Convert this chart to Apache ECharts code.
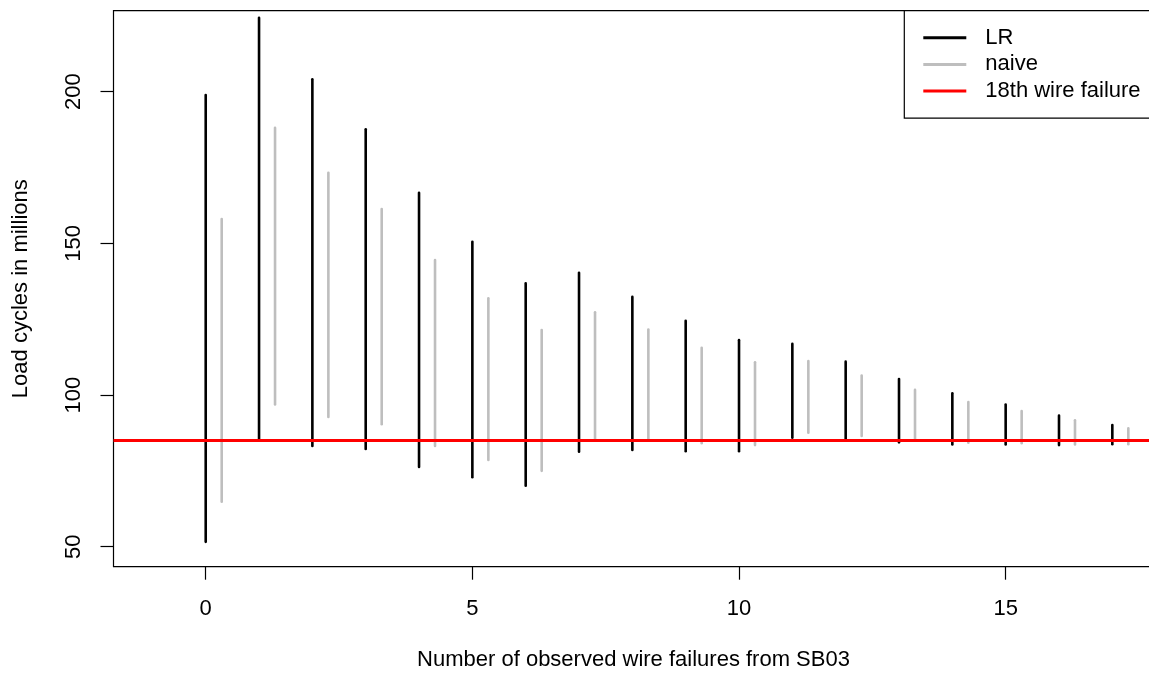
<!DOCTYPE html>
<html>
<head>
<meta charset="utf-8">
<script src="https://cdn.jsdelivr.net/npm/echarts@6/dist/echarts.min.js"></script>
<style>
html,body{margin:0;padding:0;background:#fff;}
#chart{width:1149px;height:675px;}
</style>
</head>
<body>
<div id="chart"></div>
<script>
// Number of observed wire failures
var failures = [0,1,2,3,4,5,6,7,8,9,10,11,12,13,14,15,16,17];
// LR intervals (load cycles in millions)
var lrUpper = [198.9,224.4,204.1,187.6,166.7,150.5,136.8,140.3,132.4,124.5,118.1,116.9,111.0,105.3,100.6,96.9,93.2,90.1];
var lrLower = [51.6,85.4,83.2,82.2,76.3,72.9,70.1,81.3,81.9,81.5,81.5,85.9,85.2,84.4,83.7,83.7,83.5,83.8];
// naive intervals
var naiveUpper = [158.0,188.1,173.3,161.3,144.5,131.9,121.4,127.3,121.6,115.6,110.8,111.2,106.4,101.7,97.7,94.7,91.7,89.0];
var naiveLower = [64.8,96.9,92.8,90.4,83.2,78.6,75.0,85.2,85.0,84.1,83.5,87.6,86.5,85.2,84.3,84.1,83.7,83.8];
// 18th wire failure
var failure18 = 85.2;
var xTicks = [0,5,10,15];
var yTicks = [50,100,150,200];

var FONT = 'Liberation Sans, Arial, sans-serif';
var FS = 22;
var naiveOffset = 0.3;

function segData(xs, lo, hi, off) {
  return xs.map(function (x, i) { return [x + off, lo[i], hi[i]]; });
}
function makeRender(color) {
  return function (params, api) {
    var p1 = api.coord([api.value(0), api.value(1)]);
    var p2 = api.coord([api.value(0), api.value(2)]);
    return {
      type: 'line',
      shape: { x1: p1[0], y1: p1[1], x2: p2[0], y2: p2[1] },
      style: { stroke: color, lineWidth: 2.6, lineCap: 'round' }
    };
  };
}

var chart = echarts.init(document.getElementById('chart'), null, { renderer: 'canvas' });
chart.setOption({
  animation: false,
  backgroundColor: '#fff',
  textStyle: { fontFamily: FONT },
  grid: { left: 113.5, top: 10.7, width: 1040, height: 556, containLabel: false, outerBoundsMode: 'none',
          show: true, borderColor: '#000', borderWidth: 1.2, backgroundColor: 'transparent' },
  xAxis: {
    type: 'value', min: -1.729, max: 17.772,
    name: 'Number of observed wire failures from SB03', nameLocation: 'middle', nameGap: 82,
    nameTextStyle: { fontSize: FS, color: '#000', fontFamily: FONT },
    axisLine: { show: false, onZero: false },
    splitLine: { show: false },
    axisTick: { show: true, length: 13, customValues: xTicks, lineStyle: { color: '#000', width: 1.2 } },
    axisLabel: { customValues: xTicks, margin: 31, fontSize: FS, color: '#000', fontFamily: FONT }
  },
  yAxis: {
    type: 'value', min: 43.41, max: 226.7,
    name: 'Load cycles in millions', nameLocation: 'middle', nameGap: 82,
    nameTextStyle: { fontSize: FS, color: '#000', fontFamily: FONT },
    axisLine: { show: false, onZero: false },
    splitLine: { show: false },
    axisTick: { show: true, length: 13, customValues: yTicks, lineStyle: { color: '#000', width: 1.2 } },
    axisLabel: { customValues: yTicks, rotate: 90, margin: 29, fontSize: FS, color: '#000', fontFamily: FONT }
  },
  legend: {
    orient: 'vertical', left: 904.3, top: 10.7,
    backgroundColor: '#fff', borderColor: '#000', borderWidth: 1.2,
    padding: [16, 40, 16, 19],
    itemWidth: 43, itemHeight: 3, itemGap: 4.7,
    textStyle: { fontSize: FS, lineHeight: 22, color: '#000', fontFamily: FONT, padding: [0, 0, 0, 14] },
    data: [
      { name: 'LR', icon: 'rect' },
      { name: 'naive', icon: 'rect' },
      { name: '18th wire failure', icon: 'rect' }
    ]
  },
  series: [
    {
      name: 'LR', type: 'custom', color: '#000', itemStyle: { color: '#000' },
      renderItem: makeRender('#000'), encode: { x: 0, y: [1, 2] },
      data: segData(failures, lrLower, lrUpper, 0), z: 2
    },
    {
      name: 'naive', type: 'custom', color: '#BEBEBE', itemStyle: { color: '#BEBEBE' },
      renderItem: makeRender('#BEBEBE'), encode: { x: 0, y: [1, 2] },
      data: segData(failures, naiveLower, naiveUpper, naiveOffset), z: 2
    },
    {
      name: '18th wire failure', type: 'line', color: '#FF0000', itemStyle: { color: '#FF0000' },
      data: [], z: 5,
      markLine: {
        silent: true, symbol: 'none', animation: false,
        label: { show: false },
        lineStyle: { color: '#FF0000', width: 3, type: 'solid' },
        data: [{ yAxis: failure18 }]
      }
    }
  ]
});
</script>
</body>
</html>
